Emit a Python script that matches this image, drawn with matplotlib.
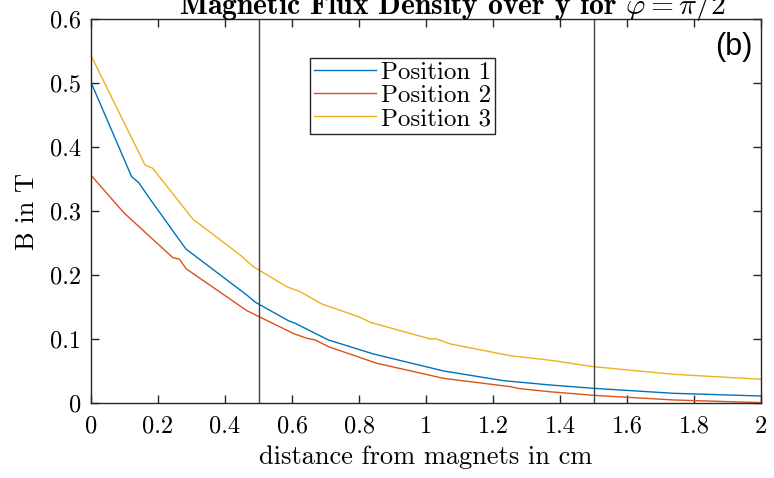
import numpy as np
from matplotlib import pyplot as plt

# values
pos1_x = [0, 0.121, 0.143, 0.176, 0.283, 0.465, 0.490, 0.589, 0.609, 0.708,
          0.843, 1.052, 1.231, 1.37, 1.499, 1.738, 2.0]
pos1_B = [0.501, 0.354, 0.344, 0.319, 0.241, 0.169, 0.158, 0.129, 0.125, 0.099,
          0.077, 0.0505, 0.0353, 0.0286, 0.0234, 0.0156, 0.0114]

pos2_x = [0, 0.082, 0.101, 0.176, 0.244, 0.264, 0.284, 0.465, 0.495, 0.604,
          0.644, 0.669, 0.708, 0.853, 1.052, 1.251, 1.281, 1.37, 1.499, 1.738, 2.0]
pos2_B = [0.356, 0.307, 0.296, 0.260, 0.2275, 0.225, 0.210, 0.1447, 0.137, 0.109,
          0.1015, 0.099, 0.0885, 0.0625, 0.039, 0.026, 0.0228, 0.018, 0.0125, 0.0052, 0.001]

pos3_x = [0, 0.161, 0.184, 0.304, 0.445, 0.484, 0.584, 0.624, 0.689, 0.803,
          0.833, 1.012, 1.032, 1.072, 1.251, 1.38, 1.40, 1.499, 1.738, 2.0]
pos3_B = [0.543, 0.372, 0.367, 0.2875, 0.2317, 0.2135, 0.182, 0.1744, 0.155, 0.1344,
          0.1265, 0.1005, 0.1005, 0.0927, 0.0744, 0.0666, 0.065, 0.0572, 0.0453, 0.0375]

marks = [0.5, 1.5]
labels = ["Position 1", "Position 2", "Position 3"]
colors = ["#0072BD", "#D95319", "#EDB120"]

plt.rcParams['font.family'] = 'cmr10'
plt.rcParams['mathtext.fontset'] = 'cm'
plt.rcParams['axes.formatter.use_mathtext'] = True

fs = 17.5
fig = plt.figure(figsize=(7.74, 4.78), dpi=100)
ax = fig.add_axes([0.1176, 0.1563, 0.8656, 0.8040])

ax.plot(pos1_x, pos1_B, color=colors[0], lw=1.0, label=labels[0])
ax.plot(pos2_x, pos2_B, color=colors[1], lw=1.0, label=labels[1])
ax.plot(pos3_x, pos3_B, color=colors[2], lw=1.0, label=labels[2])
for m in marks:
    ax.axvline(m, color='#404040', lw=1.0)

ax.set_xlim(0, 2)
ax.set_ylim(0, 0.6)
ax.set_xticks(np.arange(0, 2.01, 0.2))
ax.set_xticklabels(['0', '0.2', '0.4', '0.6', '0.8', '1', '1.2', '1.4', '1.6', '1.8', '2'])
ax.set_yticks(np.arange(0, 0.61, 0.1))
ax.set_yticklabels(['0', '0.1', '0.2', '0.3', '0.4', '0.5', '0.6'])
ax.tick_params(direction='in', top=True, right=True, length=6, width=1.0,
               color='#262626', labelsize=fs)
ax.tick_params(axis='x', pad=9)
ax.tick_params(axis='y', pad=7)
for s in ax.spines.values():
    s.set_color('#262626')
    s.set_linewidth(1.0)

ax.set_xlabel("distance from magnets in cm", fontsize=19, labelpad=5)
ax.set_ylabel("B in T", fontsize=19, labelpad=8)

ax.text(0.539, 1.013, r"Magnetic Flux Density over y for $\varphi = \pi/2$",
        transform=ax.transAxes, ha='center', va='baseline', fontsize=21.3,
        family='cmb10')
ax.text(0.987, 0.966, "(b)", transform=ax.transAxes, ha='right', va='top',
        fontsize=22, family='Liberation Sans')

leg = ax.legend(loc='upper left', bbox_to_anchor=(0.327, 0.899), fontsize=18,
                fancybox=False, framealpha=1, edgecolor='#262626',
                handlelength=2.5, handletextpad=0.2, labelspacing=0.02,
                borderpad=0.15, borderaxespad=0)
leg.get_frame().set_linewidth(1.0)

fig.savefig("out.png", dpi=100)
